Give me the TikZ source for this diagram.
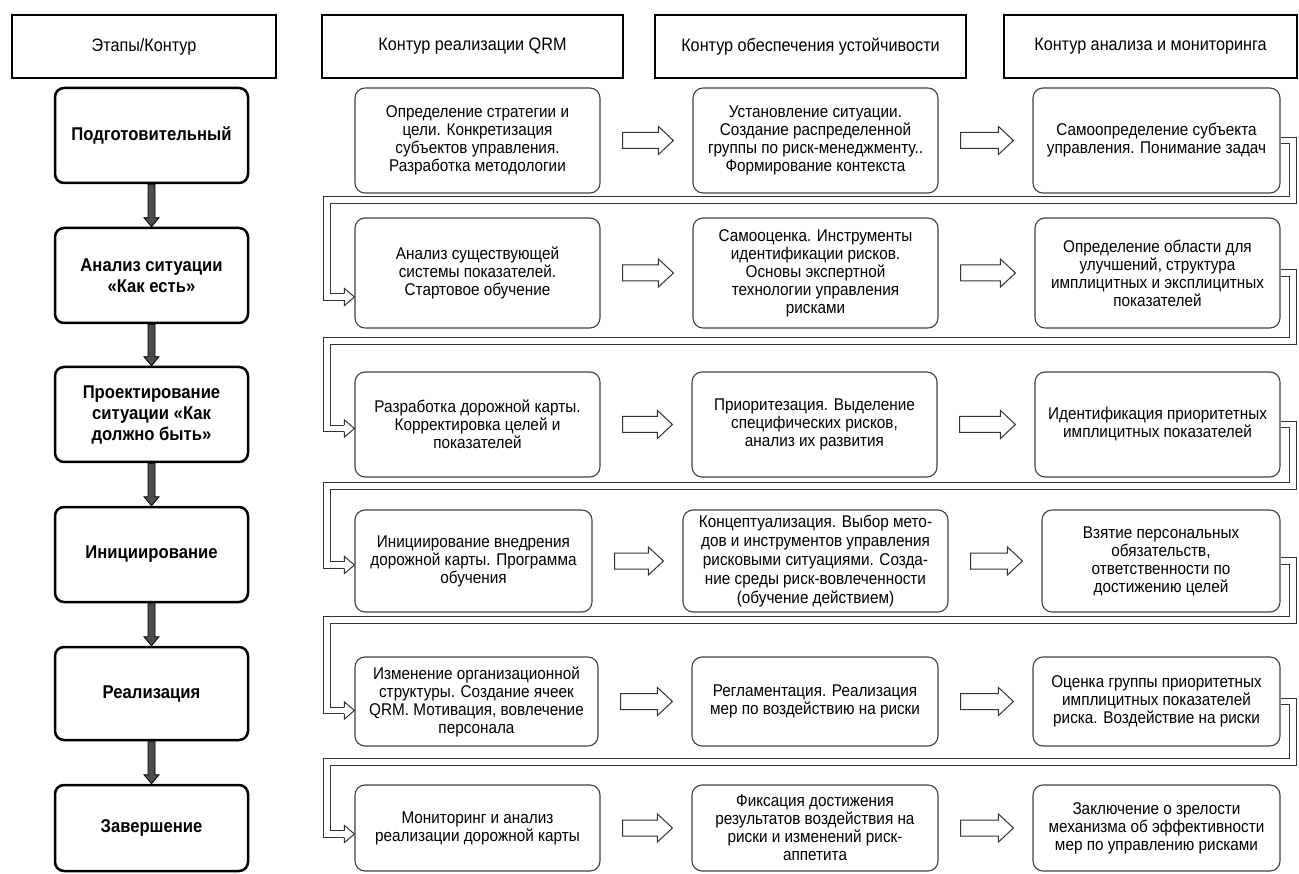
\documentclass[tikz,border=0pt]{standalone}
\usepackage{fontspec}
\setmainfont[FakeStretch=0.9]{Liberation Sans}
\usetikzlibrary{calc}

% rectangle node given by its corner coordinates (x1,y1)-(x2,y2)
\newcommand{\boxnode}[7]{%
  \node[#6, minimum width={(#4-#2)*1pt}, minimum height={(#5-#3)*1pt}]
    (#1) at ({(#2+#4)/2},{(#3+#5)/2}) {#7};}

% hollow block arrow between two cells of one row
\newcommand{\flowarrow}[2]{%
  \draw[blockarrow] let \p1=(#1.east), \p2=(#2.west) in
    (\x1+22pt,\y1+8pt) -- (\x2-34pt,\y1+8pt) -- (\x2-34pt,\y1+14pt)
    -- (\x2-19pt,\y1) -- (\x2-34pt,\y1-14pt) -- (\x2-34pt,\y1-8pt)
    -- (\x1+22pt,\y1-8pt) -- cycle;}

% solid arrow between two stage boxes
\newcommand{\stagearrow}[2]{%
  \draw[stagearr] let \p1=(#1.south), \p2=(#2.north) in
    (\x1-3.5pt,\y1) -- (\x1-3.5pt,\y2+9pt) -- (\x1-7.5pt,\y2+9pt)
    -- (\x1,\y2) -- (\x1+7.5pt,\y2+9pt) -- (\x1+3.5pt,\y2+9pt)
    -- (\x1+3.5pt,\y1) -- cycle;}

% return connector: from the last cell of a row to the first cell of the next
\newcommand{\loopback}[4]{%
  \draw[band] (#1.east) -| (1293,#3) -- (327,#3) |- ($(#2.west)+(-10,#4)$);
  \draw[bandhead] ($(#2.west)+(-10,#4-3.25)$) -- ++(0,-5.25) -- ++(10,8.5)
    -- ++(-10,8.5) -- ++(0,-5.25);}

\begin{document}
\begin{tikzpicture}[x=1pt,y=-1pt,
  hdr/.style={draw=black, line width=2.2pt, inner sep=0pt,
    font=\fontsize{18}{20}\selectfont},
  stage/.style={draw=black, line width=2.5pt, rounded corners=9pt,
    align=center, inner sep=0pt, font=\fontsize{18.5}{21}\selectfont\bfseries},
  cell/.style={draw=black!75, line width=1.1pt, rounded corners=10pt,
    align=center, inner sep=0pt, font=\fontsize{17}{18}\selectfont},
  tightcell/.style={cell, font=\fontsize{17}{19}\selectfont},
  blockarrow/.style={draw=black!80, line width=1pt, fill=white, line join=miter},
  stagearr/.style={draw=black, line width=0.8pt, fill=black!70},
  band/.style={draw=black!80, line width=1pt, double=white,
    double distance=5.5pt, line join=miter},
  bandhead/.style={draw=black!80, line width=1pt, fill=white, line join=miter}]

\useasboundingbox (0,0) rectangle (1299,874);

% column headers
\boxnode{h0}{12}{15}{276}{78}{hdr}{Этапы/Контур}
\boxnode{h1}{322}{15}{623}{78}{hdr}{Контур реализации QRM}
\boxnode{h2}{655}{15}{966}{78}{hdr}{Контур обеспечения устойчивости}
\boxnode{h3}{1004}{15}{1297}{78}{hdr}{Контур анализа и мониторинга}

% stages
\boxnode{s1}{55}{88}{248}{183}{stage}{Подготовительный}
\boxnode{s2}{55}{228}{248}{323}{stage}{Анализ ситуации\\«Как есть»}
\boxnode{s3}{55}{367}{248}{462}{stage}{Проектирование\\ситуации «Как\\должно быть»}
\boxnode{s4}{55}{507}{248}{602}{stage}{Инициирование}
\boxnode{s5}{55}{647}{248}{740}{stage}{Реализация}
\boxnode{s6}{55}{785}{248}{871}{stage}{Завершение}

\stagearrow{s1}{s2}
\stagearrow{s2}{s3}
\stagearrow{s3}{s4}
\stagearrow{s4}{s5}
\stagearrow{s5}{s6}

% row 1
\boxnode{c11}{355}{88}{600}{193}{cell}{Определение стратегии и\\цели. Конкретизация\\субъектов управления.\\Разработка методологии}
\boxnode{c12}{693}{88}{938}{193}{cell}{Установление ситуации.\\Создание распределенной\\группы по риск-менеджменту..\\Формирование контекста}
\boxnode{c13}{1033}{88}{1280}{193}{cell}{Самоопределение субъекта\\управления. Понимание задач}
% row 2
\boxnode{c21}{355}{218}{600}{328}{cell}{Анализ существующей\\системы показателей.\\Стартовое обучение}
\boxnode{c22}{693}{218}{938}{328}{cell}{Самооценка. Инструменты\\идентификации рисков.\\Основы экспертной\\технологии управления\\рисками}
\boxnode{c23}{1035}{218}{1280}{328}{cell}{Определение области для\\улучшений, структура\\имплицитных и эксплицитных\\показателей}
% row 3
\boxnode{c31}{355}{372}{600}{477}{cell}{Разработка дорожной карты.\\Корректировка целей и\\показателей}
\boxnode{c32}{692}{372}{937}{477}{cell}{Приоритезация. Выделение\\специфических рисков,\\анализ их развития}
\boxnode{c33}{1035}{372}{1280}{477}{cell}{Идентификация приоритетных\\имплицитных показателей}
% row 4
\boxnode{c41}{355}{510}{592}{612}{cell}{Инициирование внедрения\\дорожной карты. Программа\\обучения}
\boxnode{c42}{683}{510}{948}{612}{tightcell}{Концептуализация. Выбор мето-\\дов и инструментов управления\\рисковыми ситуациями. Созда-\\ние среды риск-вовлеченности\\(обучение действием)}
\boxnode{c43}{1042}{510}{1280}{612}{cell}{Взятие персональных\\обязательств,\\ответственности по\\достижению целей}
% row 5
\boxnode{c51}{355}{657}{598}{746}{cell}{Изменение организационной\\структуры. Создание ячеек\\QRM. Мотивация, вовлечение\\персонала}
\boxnode{c52}{692}{657}{938}{746}{cell}{Регламентация. Реализация\\мер по воздействию на риски}
\boxnode{c53}{1033}{657}{1280}{746}{cell}{Оценка группы приоритетных\\имплицитных показателей\\риска. Воздействие на риски}
% row 6
\boxnode{c61}{355}{785}{600}{871}{cell}{Мониторинг и анализ\\реализации дорожной карты}
\boxnode{c62}{692}{785}{938}{871}{cell}{Фиксация достижения\\результатов воздействия на\\риски и изменений риск-\\аппетита}
\boxnode{c63}{1033}{785}{1280}{871}{cell}{Заключение о зрелости\\механизма об эффективности\\мер по управлению рисками}

% arrows along each row
\flowarrow{c11}{c12} \flowarrow{c12}{c13}
\flowarrow{c21}{c22} \flowarrow{c22}{c23}
\flowarrow{c31}{c32} \flowarrow{c32}{c33}
\flowarrow{c41}{c42} \flowarrow{c42}{c43}
\flowarrow{c51}{c52} \flowarrow{c52}{c53}
\flowarrow{c61}{c62} \flowarrow{c62}{c63}

% return connectors between rows
\loopback{c13}{c21}{200}{24}
\loopback{c23}{c31}{341}{4}
\loopback{c33}{c41}{486}{4}
\loopback{c43}{c51}{620}{9}
\loopback{c53}{c61}{762}{6}

\end{tikzpicture}
\end{document}
